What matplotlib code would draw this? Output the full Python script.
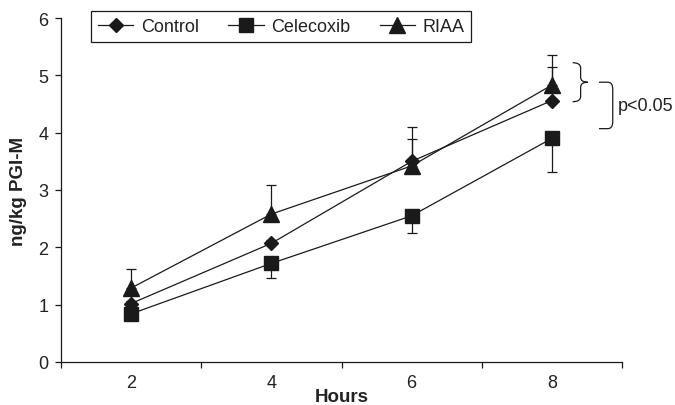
import matplotlib
matplotlib.use("Agg")
import matplotlib.pyplot as plt
from matplotlib.path import Path
from matplotlib.patches import PathPatch
from matplotlib.ticker import FixedLocator

plt.rcParams['font.family'] = ['Liberation Sans', 'DejaVu Sans']

hours = ['2', '4', '6', '8']
control = [1.02, 2.07, 3.50, 4.56]
control_err = [0.05, 0.05, 0.60, 0.59]
celecoxib = [0.84, 1.72, 2.55, 3.90]
celecoxib_err = [0.05, 0.26, 0.30, 0.58]
riaa = [1.29, 2.58, 3.42, 4.83]
riaa_err = [0.34, 0.50, 0.47, 0.52]
yticks = [0, 1, 2, 3, 4, 5, 6]
sig_text = 'p<0.05'

C = '#1a1a1a'
fig = plt.figure(figsize=(6.75, 4.06), dpi=100)
ax = fig.add_axes([61/675, 1-363/406, 561/675, 344/406])
x = list(range(len(hours)))

ax.errorbar(x, control, yerr=[[0]*4, control_err], fmt='none', ecolor=C, elinewidth=0.9, capsize=3.5, capthick=0.9, zorder=2)
ax.errorbar(x, riaa, yerr=[[0]*4, riaa_err], fmt='none', ecolor=C, elinewidth=0.9, capsize=3.5, capthick=0.9, zorder=2)
ax.errorbar(x, celecoxib, yerr=[celecoxib_err, [0]*4], fmt='none', ecolor=C, elinewidth=0.9, capsize=3.5, capthick=0.9, zorder=2)

l1, = ax.plot(x, control, color=C, lw=0.9, marker='D', ms=7.5, mfc=C, mec=C, label='Control', zorder=3)
l2, = ax.plot(x, celecoxib, color=C, lw=0.9, marker='s', ms=10, mfc=C, mec=C, label='Celecoxib', zorder=3)
l3, = ax.plot(x, riaa, color=C, lw=0.9, marker='^', ms=11, mfc=C, mec=C, label='RIAA', zorder=3)

ax.set_xlim(-0.5, len(hours) - 0.5)
ax.set_ylim(0, 6)
ax.set_xticks(x)
ax.set_xticklabels(hours)
ax.xaxis.set_minor_locator(FixedLocator([i - 0.5 for i in range(len(hours) + 1)]))
ax.set_yticks(yticks)
ax.tick_params(axis='x', which='major', length=0, pad=9, labelsize=13, labelcolor='#222222')
ax.tick_params(axis='x', which='minor', length=4, width=0.9, direction='out', color=C)
ax.tick_params(axis='y', which='major', length=4, width=0.9, direction='out', pad=5, labelsize=13, labelcolor='#222222', color=C)
for s in ['top', 'right']:
    ax.spines[s].set_visible(False)
for s in ['left', 'bottom']:
    ax.spines[s].set_color(C)
    ax.spines[s].set_linewidth(0.9)

ax.set_ylabel('ng/kg PGI-M', fontsize=13.5, fontweight='bold', color='#222222')
ax.yaxis.set_label_coords(-0.06, 0.5)
ax.set_xlabel('Hours', fontsize=13.5, fontweight='bold', color='#222222')
ax.xaxis.set_label_coords(0.5, -0.076)

leg = fig.legend(handles=[l1, l2, l3], loc='upper left', bbox_to_anchor=(91/675, 1-12/406),
                 ncol=3, frameon=True, fancybox=False, framealpha=1, edgecolor=C,
                 fontsize=13, handlelength=1.95, handletextpad=0.4, columnspacing=1.65,
                 borderpad=0.4, borderaxespad=0)
leg.get_frame().set_linewidth(0.9)
for t in leg.get_texts():
    t.set_color('#222222')

# brace 1 "}" between RIAA and Control at 8 h
x0, xv, xt = 3.148, 3.205, 3.255
yt, ym, yb, r = 5.22, 4.88, 4.54, 0.09
verts = [(x0, yt), (xv, yt), (xv, yt - r), (xv, ym + r), (xv, ym), (xt, ym),
         (xv, ym), (xv, ym - r), (xv, yb + r), (xv, yb), (x0, yb)]
codes = [Path.MOVETO, Path.CURVE3, Path.CURVE3, Path.LINETO, Path.CURVE3, Path.CURVE3,
         Path.CURVE3, Path.CURVE3, Path.LINETO, Path.CURVE3, Path.CURVE3]
ax.add_patch(PathPatch(Path(verts, codes), fill=False, edgecolor=C, lw=0.9, clip_on=False))

# bracket 2
x0, xv = 3.336, 3.434
yt, yb = 4.88, 4.07
verts = [(x0, yt), (xv - 0.035, yt), (xv, yt), (xv, yt - 0.12), (xv, yb + 0.12), (xv, yb), (xv - 0.035, yb), (x0, yb)]
codes = [Path.MOVETO, Path.LINETO, Path.CURVE3, Path.CURVE3, Path.LINETO, Path.CURVE3, Path.CURVE3, Path.LINETO]
ax.add_patch(PathPatch(Path(verts, codes), fill=False, edgecolor=C, lw=0.9, clip_on=False))
ax.text(3.468, 4.47, sig_text, fontsize=13, color='#222222', ha='left', va='center', clip_on=False)

fig.savefig('out.png', dpi=100)
